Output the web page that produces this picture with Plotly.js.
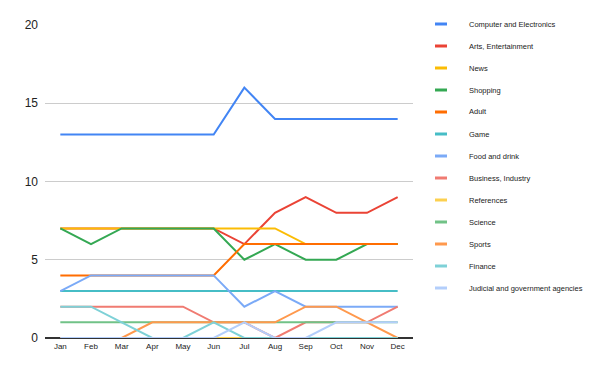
<!DOCTYPE html>
<html><head><meta charset="utf-8">
<script src="https://cdn.plot.ly/plotly-3.0.1.min.js"></script>
<style>body{margin:0;background:#fff}#c{width:600px;height:371px}</style>
</head><body><div id="c"></div>
<script>
const months = ['Jan','Feb','Mar','Apr','May','Jun','Jul','Aug','Sep','Oct','Nov','Dec'];
const seriesNames = ['Computer and Electronics','Arts, Entertainment','News','Shopping','Adult','Game','Food and drink','Business, Industry','References','Science','Sports','Finance','Judicial and government agencies'];
const colors = ['#4285F4','#EA4335','#FBBC04','#34A853','#FF6D01','#46BDC6','#7BAAF7','#F07B72','#FCD04F','#71C287','#FF994D','#7ED1D7','#B3CEFB'];
const computer = [13,13,13,13,13,13,16,14,14,14,14,14];
const arts = [7,7,7,7,7,7,6,8,9,8,8,9];
const news = [7,7,7,7,7,7,7,7,6,6,6,6];
const shopping = [7,6,7,7,7,7,5,6,5,5,6,6];
const adult = [4,4,4,4,4,4,6,6,6,6,6,6];
const game = [3,3,3,3,3,3,3,3,3,3,3,3];
const food = [3,4,4,4,4,4,2,3,2,2,2,2];
const business = [2,2,2,2,2,1,1,0,1,1,1,2];
const references = [0,0,0,0,0,0,0,0,0,0,0,0];
const science = [1,1,1,1,1,1,1,1,1,1,1,1];
const sports = [0,0,0,1,1,1,1,1,2,2,1,0];
const finance = [2,2,1,0,0,1,0,0,0,0,0,0];
const judicial = [0,0,0,0,0,0,1,0,0,1,1,1];
const allSeries = [computer,arts,news,shopping,adult,game,food,business,references,science,sports,finance,judicial];

const traces = allSeries.map((v,i)=>({
  x: months, y: v, type:'scatter', mode:'lines', name: seriesNames[i],
  line:{color:colors[i], width:2}, showlegend:false, hoverinfo:'none'
}));

const L=45, T=25, W=368, H=313;
const shapes=[], annotations=[];
seriesNames.forEach((n,i)=>{
  const yp = 24 + 22*i;
  const yPaper = 1 - (yp - T)/H;
  shapes.push({type:'line', xref:'paper', yref:'paper',
    x0:(435-L)/W, x1:(447-L)/W, y0:yPaper, y1:yPaper,
    line:{color:colors[i], width:3}});
  annotations.push({xref:'paper', yref:'paper', x:(467-L)/W, y:yPaper,
    xanchor:'left', yanchor:'middle', text:n, showarrow:false,
    font:{family:'Arial, Liberation Sans, sans-serif', size:7.5, color:'#222'}});
});

const layout = {
  width:600, height:371,
  margin:{l:L, r:600-L-W, t:T, b:371-T-H},
  paper_bgcolor:'#fff', plot_bgcolor:'#fff',
  xaxis:{type:'category', range:[-0.5,11.5], showgrid:false, zeroline:false, showline:false,
    ticks:'', ticklabelstandoff:2,
    tickfont:{family:'Arial, Liberation Sans, sans-serif', size:8, color:'#222'}},
  yaxis:{range:[0,20], tickvals:[0,5,10,15,20], gridcolor:'#cccccc', gridwidth:1,
    zeroline:true, zerolinecolor:'#333', zerolinewidth:1.5, showline:false, ticks:'',
    ticklabelstandoff:6,
    tickfont:{family:'Arial, Liberation Sans, sans-serif', size:12, color:'#222'}},
  shapes:shapes, annotations:annotations
};
Plotly.newPlot('c', traces, layout, {displayModeBar:false, staticPlot:true});
</script></body></html>
